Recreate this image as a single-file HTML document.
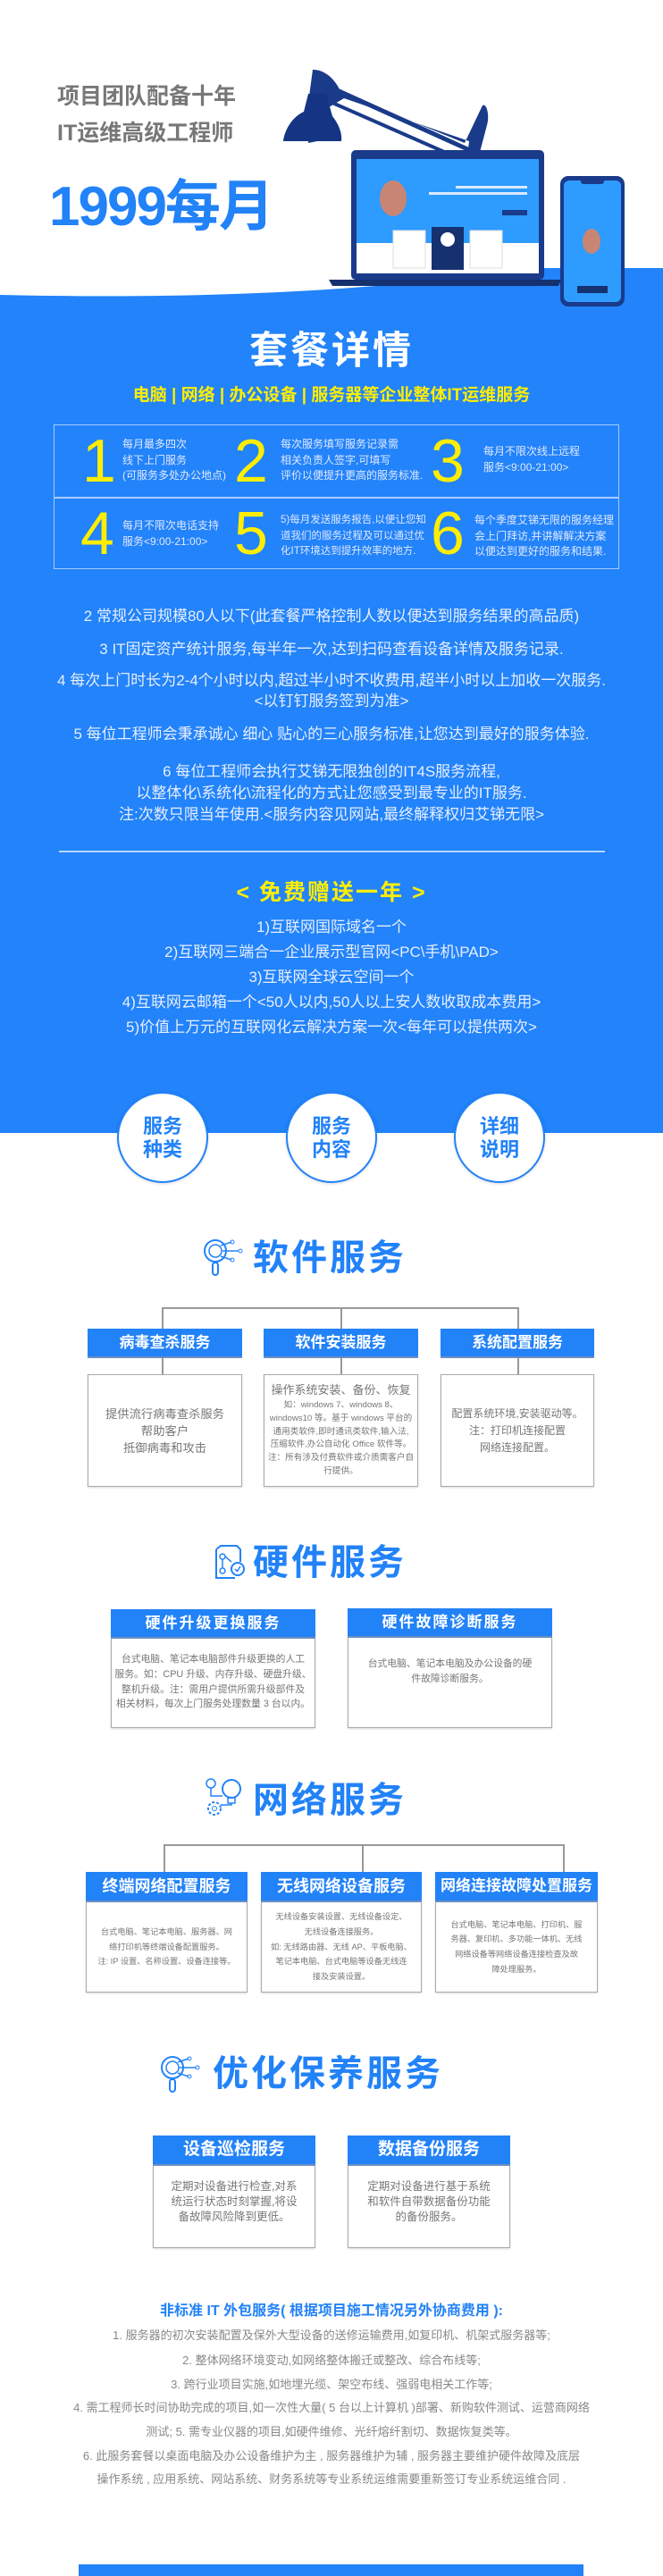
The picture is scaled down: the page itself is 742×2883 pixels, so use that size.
<!DOCTYPE html>
<html><head><meta charset="utf-8"><style>
*{margin:0;padding:0;box-sizing:border-box}
body{width:742px;height:2883px;position:relative;background:#fff;font-family:"Liberation Sans","Noto Sans CJK SC",sans-serif;overflow:hidden}
.a{position:absolute;white-space:nowrap}
.c{position:absolute;left:0;width:742px;text-align:center;white-space:nowrap}
.w{color:#e6eeff}
.y{color:#ffee00;font-weight:bold}
.num{position:absolute;color:#ffee00;font-size:68px;line-height:68px;font-family:"Liberation Sans",sans-serif}
.sm{position:absolute;color:#e0e8ff;font-size:12px;line-height:17.5px;white-space:nowrap}
.circ{position:absolute;width:102px;height:102px;border-radius:50%;background:#fff;border:2px solid #2282f8;color:#2282f8;font-weight:bold;font-size:22px;line-height:26px;text-align:center;padding-top:24px;box-shadow:0 1px 3px rgba(0,0,0,.15)}
.tt{position:absolute;color:#2282f8;font-weight:bold;font-size:40px;line-height:42px;letter-spacing:3px;white-space:nowrap}
.hd{position:absolute;background:#2282f8;color:#fff;font-weight:bold;text-align:center;white-space:nowrap;border-bottom:2px solid #6a8fc0}
.bd{position:absolute;border:1.5px solid #aaa;border-top:none;background:#fff;box-shadow:0 1px 2px rgba(0,0,0,.15);color:#777;text-align:center;white-space:nowrap;display:flex;flex-direction:column;justify-content:center;align-items:center}
.ln{position:absolute;background:#999}
</style></head><body>

<svg class="a" style="left:0;top:0" width="742" height="1270" viewBox="0 0 742 1270">
<rect x="0" y="300" width="742" height="968" fill="#2283fa"/>
<path d="M742,40 C715,180 640,300 420,318 C250,332 80,330 0,328 L0,0 L742,0 Z" fill="#fff"/>
<path d="M0,300 L0,330 C80,332 250,334 420,320 L0,320Z" fill="#fff"/>
<path d="M350,78 C365,78 375,90 380,100 L385,105 L520,160 L540,118 C545,115 548,130 545,140 L520,235 L515,238 L525,158 L385,110 L368,120 L370,155 L345,160 L345,115 Z" fill="#1a3a8a"/>
<path d="M345,105 L365,105 L372,130 C380,140 383,150 382,158 L317,158 C318,148 325,132 340,125 Z" fill="#153584"/>
<line x1="375" y1="100" x2="530" y2="170" stroke="#1a3a8a" stroke-width="5"/>
<line x1="372" y1="115" x2="520" y2="180" stroke="#1a3a8a" stroke-width="4"/>
<line x1="530" y1="170" x2="518" y2="240" stroke="#1a3a8a" stroke-width="4"/>
<line x1="538" y1="175" x2="527" y2="240" stroke="#1a3a8a" stroke-width="3"/>
<rect x="393" y="168" width="216" height="145" rx="5" fill="#1a3a8a"/>
<rect x="399" y="178" width="204" height="128" fill="#2e9bff"/>
<rect x="399" y="272" width="204" height="34" fill="#fff"/>
<rect x="440" y="258" width="36" height="42" fill="#fff" stroke="#ddd"/>
<rect x="483" y="254" width="36" height="48" fill="#15316f"/>
<circle cx="501" cy="268" r="8" fill="#fff"/>
<rect x="526" y="258" width="36" height="42" fill="#fff" stroke="#ddd"/>
<ellipse cx="440" cy="222" rx="15" ry="20" fill="#f08050" opacity=".8"/>
<rect x="562" y="235" width="28" height="6" fill="#1a3a8a"/>
<rect x="510" y="208" width="80" height="3" fill="#dbeaff"/>
<rect x="480" y="215" width="110" height="3" fill="#dbeaff"/>
<path d="M368,313 L628,313 L625,320 L372,320 Z" fill="#15316f"/>
<rect x="627" y="197" width="72" height="146" rx="9" fill="#1a3a8a"/>
<rect x="631" y="202" width="64" height="136" rx="6" fill="#2e9bff"/>
<rect x="650" y="200" width="26" height="6" rx="3" fill="#1a3a8a"/>
<ellipse cx="662" cy="270" rx="10" ry="14" fill="#f08050" opacity=".8"/>
<rect x="646" y="320" width="34" height="8" fill="#15316f"/>
</svg>

<div class="a" style="left:64px;top:94px;font-size:25px;line-height:28px;color:#777;font-weight:bold">项目团队配备十年</div>
<div class="a" style="left:64px;top:135px;font-size:25px;line-height:28px;color:#777;font-weight:bold">IT运维高级工程师</div>
<div class="a" style="left:55px;top:200px;font-size:62px;line-height:64px;color:#2282f8;font-weight:bold;letter-spacing:-2px">1999每月</div>

<div class="c" style="top:370px;font-size:43px;line-height:46px;color:#fff;font-weight:bold;letter-spacing:3px">套餐详情</div>
<div class="c y" style="top:432px;font-size:19px;line-height:22px">电脑 | 网络 | 办公设备 | 服务器等企业整体IT运维服务</div>

<div class="a" style="left:60px;top:475px;width:633px;height:162px;border:1.5px solid #a9ccff"></div>
<div class="a" style="left:60px;top:556px;width:633px;height:1.5px;background:#a9ccff"></div>
<div class="num" style="left:92px;top:482px">1</div>
<div class="sm" style="left:137px;top:489px">每月最多四次<br>线下上门服务<br>(可服务多处办公地点)</div>
<div class="num" style="left:262px;top:482px">2</div>
<div class="sm" style="left:314px;top:489px">每次服务填写服务记录需<br>相关负责人签字,可填写<br>评价以便提升更高的服务标准.</div>
<div class="num" style="left:482px;top:482px">3</div>
<div class="sm" style="left:541px;top:497px">每月不限次线上远程<br>服务&lt;9:00-21:00&gt;</div>
<div class="num" style="left:90px;top:563px">4</div>
<div class="sm" style="left:137px;top:580px">每月不限次电话支持<br>服务&lt;9:00-21:00&gt;</div>
<div class="num" style="left:262px;top:563px">5</div>
<div class="sm" style="left:314px;top:574px;font-size:11.5px">5)每月发送服务报告,以便让您知<br>道我们的服务过程及可以通过优<br>化IT环境达到提升效率的地方.</div>
<div class="num" style="left:482px;top:563px">6</div>
<div class="sm" style="left:531px;top:574px">每个季度艾锑无限的服务经理<br>会上门拜访,并讲解解决方案<br>以便达到更好的服务和结果.</div>

<div class="c w" style="top:680px;font-size:17px;line-height:20px">2 常规公司规模80人以下(此套餐严格控制人数以便达到服务结果的高品质)</div>
<div class="c w" style="top:717px;font-size:17px;line-height:20px">3 IT固定资产统计服务,每半年一次,达到扫码查看设备详情及服务记录.</div>
<div class="c w" style="top:752px;font-size:17px;line-height:20px">4 每次上门时长为2-4个小时以内,超过半小时不收费用,超半小时以上加收一次服务.</div>
<div class="c w" style="top:775px;font-size:17px;line-height:20px">&lt;以钉钉服务签到为准&gt;</div>
<div class="c w" style="top:812px;font-size:17px;line-height:20px">5 每位工程师会秉承诚心 细心 贴心的三心服务标准,让您达到最好的服务体验.</div>
<div class="c w" style="top:854px;font-size:17px;line-height:20px">6 每位工程师会执行艾锑无限独创的IT4S服务流程,</div>
<div class="c w" style="top:878px;font-size:17px;line-height:20px">以整体化\系统化\流程化的方式让您感受到最专业的IT服务.</div>
<div class="c w" style="top:902px;font-size:17px;line-height:20px">注:次数只限当年使用.&lt;服务内容见网站,最终解释权归艾锑无限&gt;</div>
<div class="a" style="left:66px;top:952px;width:611px;height:2px;background:#b8d4ff"></div>

<div class="c y" style="top:985px;font-size:25px;line-height:28px;letter-spacing:2px">&lt; 免费赠送一年 &gt;</div>
<div class="c w" style="top:1028px;font-size:17px;line-height:20px">1)互联网国际域名一个</div>
<div class="c w" style="top:1056px;font-size:17px;line-height:20px">2)互联网三端合一企业展示型官网&lt;PC\手机\PAD&gt;</div>
<div class="c w" style="top:1084px;font-size:17px;line-height:20px">3)互联网全球云空间一个</div>
<div class="c w" style="top:1112px;font-size:17px;line-height:20px">4)互联网云邮箱一个&lt;50人以内,50人以上安人数收取成本费用&gt;</div>
<div class="c w" style="top:1140px;font-size:17px;line-height:20px">5)价值上万元的互联网化云解决方案一次&lt;每年可以提供两次&gt;</div>

<div class="circ" style="left:131px;top:1222px">服务<br>种类</div>
<div class="circ" style="left:320px;top:1222px">服务<br>内容</div>
<div class="circ" style="left:508px;top:1222px">详细<br>说明</div>

<svg class="a" style="left:227px;top:1386px" width="46" height="42" viewBox="0 0 46 42"><circle cx="14" cy="14" r="12" fill="none" stroke="#2282f8" stroke-width="2"/><circle cx="14" cy="14" r="7" fill="none" stroke="#2282f8" stroke-width="1.5"/><rect x="11" y="27" width="6" height="14" rx="3" fill="none" stroke="#2282f8" stroke-width="2"/><path d="M20,8 L32,4 M22,14 L40,14 M20,20 L32,24" stroke="#2282f8" stroke-width="1.5"/><circle cx="33" cy="4" r="2" fill="none" stroke="#2282f8"/><circle cx="42" cy="14" r="2" fill="none" stroke="#2282f8"/><circle cx="33" cy="24" r="2" fill="none" stroke="#2282f8"/></svg>
<div class="tt" style="left:283px;top:1387px">软件服务</div>
<div class="ln" style="left:181px;top:1463px;width:400px;height:1.5px"></div>
<div class="ln" style="left:181px;top:1463px;width:1.5px;height:24px"></div>
<div class="ln" style="left:381px;top:1463px;width:1.5px;height:24px"></div>
<div class="ln" style="left:579px;top:1463px;width:1.5px;height:24px"></div>
<div class="hd" style="left:98px;top:1487px;width:173px;height:33px;font-size:17px;line-height:31px">病毒查杀服务</div>
<div class="hd" style="left:295px;top:1487px;width:173px;height:33px;font-size:17px;line-height:31px">软件安装服务</div>
<div class="hd" style="left:493px;top:1487px;width:172px;height:33px;font-size:17px;line-height:31px">系统配置服务</div>
<div class="ln" style="left:181px;top:1520px;width:1.5px;height:18px"></div>
<div class="ln" style="left:381px;top:1520px;width:1.5px;height:18px"></div>
<div class="ln" style="left:579px;top:1520px;width:1.5px;height:18px"></div>
<div class="bd" style="left:98px;top:1538px;width:173px;height:126px;border-top:1.5px solid #aaa;font-size:13.3px;line-height:19px">提供流行病毒查杀服务<br>帮助客户<br>抵御病毒和攻击</div>
<div class="bd" style="left:295px;top:1538px;width:173px;height:126px;border-top:1.5px solid #aaa;font-size:9.6px;line-height:14.8px"><div><span style="font-size:13px;line-height:18px">操作系统安装、备份、恢复</span><br>如：windows 7、windows 8、<br>windows10 等。基于 windows 平台的<br>通用类软件,即时通讯类软件,输入法,<br>压缩软件,办公自动化 Office 软件等。<br>注：所有涉及付费软件或介质需客户自<br>行提供。</div></div>
<div class="bd" style="left:493px;top:1538px;width:172px;height:126px;border-top:1.5px solid #aaa;font-size:12px;line-height:19px">配置系统环境,安装驱动等。<br>注：打印机连接配置<br>网络连接配置。</div>

<svg class="a" style="left:239px;top:1728px" width="36" height="40" viewBox="0 0 36 40"><path d="M3,6 L3,38 L24,38 M3,6 L8,2 L26,2 L30,6 L30,20" fill="none" stroke="#2282f8" stroke-width="2"/><circle cx="10" cy="14" r="3" fill="none" stroke="#2282f8" stroke-width="1.5"/><circle cx="10" cy="30" r="3" fill="none" stroke="#2282f8" stroke-width="1.5"/><path d="M10,17 L10,27 M13,14 L20,20" stroke="#2282f8" stroke-width="1.5"/><circle cx="27" cy="28" r="7" fill="none" stroke="#2282f8" stroke-width="2"/><path d="M24,28 L26.5,30.5 L30,25" fill="none" stroke="#2282f8" stroke-width="1.5"/></svg>
<div class="tt" style="left:283px;top:1728px">硬件服务</div>
<div class="hd" style="left:124px;top:1801px;width:229px;height:33px;font-size:17px;line-height:31px;letter-spacing:2px">硬件升级更换服务</div>
<div class="bd" style="left:124px;top:1834px;width:229px;height:100px;font-size:10.8px;line-height:16.8px;justify-content:flex-start;padding-top:15px">台式电脑、笔记本电脑部件升级更换的人工<br>服务。如：CPU 升级、内存升级、硬盘升级、<br>整机升级。注：需用户提供所需升级部件及<br>相关材料，每次上门服务处理数量 3 台以内。</div>
<div class="hd" style="left:389px;top:1800px;width:229px;height:33px;font-size:17px;line-height:31px;letter-spacing:2px">硬件故障诊断服务</div>
<div class="bd" style="left:389px;top:1833px;width:229px;height:101px;font-size:10.8px;line-height:16.8px;justify-content:flex-start;padding-top:21px">台式电脑、笔记本电脑及办公设备的硬<br>件故障诊断服务。</div>

<svg class="a" style="left:229px;top:1990px" width="42" height="46" viewBox="0 0 42 46"><circle cx="7" cy="6" r="5" fill="none" stroke="#2282f8" stroke-width="1.5"/><circle cx="30" cy="12" r="10" fill="none" stroke="#2282f8" stroke-width="2"/><rect x="26" y="22" width="8" height="6" fill="none" stroke="#2282f8" stroke-width="1.5"/><circle cx="11" cy="34" r="7" fill="none" stroke="#2282f8" stroke-width="2" stroke-dasharray="3 2"/><circle cx="11" cy="34" r="2.5" fill="none" stroke="#2282f8"/><path d="M7,11 L7,20 L20,20 M18,30 L30,30 L30,28" fill="none" stroke="#2282f8" stroke-width="1.5"/></svg>
<div class="tt" style="left:283px;top:1994px">网络服务</div>
<div class="ln" style="left:183px;top:2064px;width:448px;height:1.5px"></div>
<div class="ln" style="left:183px;top:2064px;width:1.5px;height:31px"></div>
<div class="ln" style="left:405px;top:2064px;width:1.5px;height:31px"></div>
<div class="ln" style="left:630px;top:2064px;width:1.5px;height:31px"></div>
<div class="hd" style="left:96px;top:2095px;width:181px;height:34px;font-size:18px;line-height:32px">终端网络配置服务</div>
<div class="hd" style="left:292px;top:2095px;width:180px;height:34px;font-size:18px;line-height:32px">无线网络设备服务</div>
<div class="hd" style="left:487px;top:2095px;width:182px;height:34px;font-size:17px;line-height:32px">网络连接故障处置服务</div>
<div class="bd" style="left:96px;top:2129px;width:181px;height:101px;font-size:9.2px;line-height:16.7px">台式电脑、笔记本电脑、服务器、网<br>络打印机等终端设备配置服务。<br>注: IP 设置、名称设置、设备连接等。</div>
<div class="bd" style="left:292px;top:2129px;width:180px;height:101px;font-size:9.2px;line-height:16.7px">无线设备安装设置、无线设备设定、<br>无线设备连接服务。<br>如: 无线路由器、无线 AP、平板电脑、<br>笔记本电脑、台式电脑等设备无线连<br>接及安装设置。</div>
<div class="bd" style="left:487px;top:2129px;width:182px;height:101px;font-size:9.2px;line-height:16.7px">台式电脑、笔记本电脑、打印机、服<br>务器、复印机、多功能一体机、无线<br>网络设备等网络设备连接检查及故<br>障处理服务。</div>

<svg class="a" style="left:179px;top:2299px" width="46" height="44" viewBox="0 0 46 42"><circle cx="14" cy="14" r="12" fill="none" stroke="#2282f8" stroke-width="2"/><circle cx="14" cy="14" r="7" fill="none" stroke="#2282f8" stroke-width="1.5"/><rect x="11" y="27" width="6" height="14" rx="3" fill="none" stroke="#2282f8" stroke-width="2"/><path d="M20,8 L32,4 M22,14 L40,14 M20,20 L32,24" stroke="#2282f8" stroke-width="1.5"/><circle cx="33" cy="4" r="2" fill="none" stroke="#2282f8"/><circle cx="42" cy="14" r="2" fill="none" stroke="#2282f8"/><circle cx="33" cy="24" r="2" fill="none" stroke="#2282f8"/></svg>
<div class="tt" style="left:238px;top:2300px">优化保养服务</div>
<div class="hd" style="left:171px;top:2390px;width:182px;height:34px;font-size:19px;line-height:32px">设备巡检服务</div>
<div class="bd" style="left:171px;top:2424px;width:182px;height:92px;font-size:12.5px;line-height:16.8px;justify-content:flex-start;padding-top:15px">定期对设备进行检查,对系<br>统运行状态时刻掌握,将设<br>备故障风险降到更低。</div>
<div class="hd" style="left:389px;top:2390px;width:182px;height:34px;font-size:19px;line-height:32px">数据备份服务</div>
<div class="bd" style="left:389px;top:2424px;width:182px;height:92px;font-size:12.5px;line-height:16.8px;justify-content:flex-start;padding-top:15px">定期对设备进行基于系统<br>和软件自带数据备份功能<br>的备份服务。</div>

<div class="c" style="top:2577px;font-size:16px;line-height:20px;color:#2282f8;font-weight:bold">非标准 IT 外包服务( 根据项目施工情况另外协商费用 ):</div>
<div class="c" style="top:2605px;font-size:13px;line-height:18px;color:#888">1. 服务器的初次安装配置及保外大型设备的送修运输费用,如复印机、机架式服务器等;</div>
<div class="c" style="top:2633px;font-size:13px;line-height:18px;color:#888">2. 整体网络环境变动,如网络整体搬迁或整改、综合布线等;</div>
<div class="c" style="top:2660px;font-size:13px;line-height:18px;color:#888">3. 跨行业项目实施,如地埋光缆、架空布线、强弱电相关工作等;</div>
<div class="c" style="top:2686px;font-size:13px;line-height:18px;color:#888">4. 需工程师长时间协助完成的项目,如一次性大量( 5 台以上计算机 )部署、新购软件测试、运营商网络</div>
<div class="c" style="top:2713px;font-size:13px;line-height:18px;color:#888">测试; 5. 需专业仪器的项目,如硬件维修、光纤熔纤割切、数据恢复类等。</div>
<div class="c" style="top:2740px;font-size:13px;line-height:18px;color:#888">6. 此服务套餐以桌面电脑及办公设备维护为主 , 服务器维护为辅 , 服务器主要维护硬件故障及底层</div>
<div class="c" style="top:2766px;font-size:13px;line-height:18px;color:#888">操作系统 , 应用系统、网站系统、财务系统等专业系统运维需要重新签订专业系统运维合同 .</div>
<div class="a" style="left:88px;top:2870px;width:565px;height:13px;background:#2282f8"></div>
</body></html>
